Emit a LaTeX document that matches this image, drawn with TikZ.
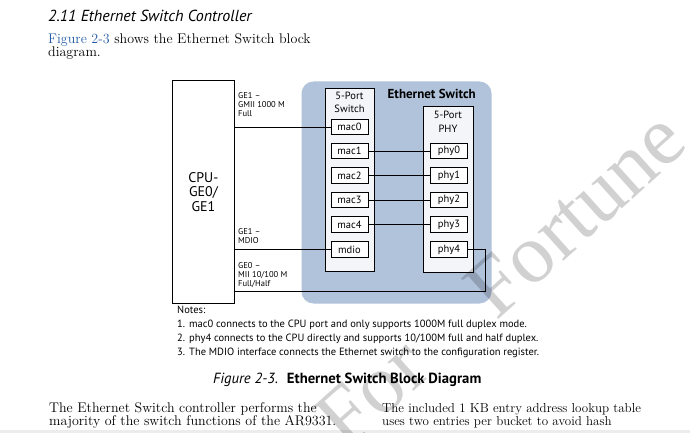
\documentclass[tikz,border=0pt]{standalone}
\usepackage{fontspec}
\newfontfamily\dsans{PT Sans}
\newfontfamily\wmfont{Liberation Serif}
\definecolor{swblue}{RGB}{176,195,219}
\definecolor{colfill}{RGB}{243,245,248}
\definecolor{linkblue}{RGB}{36,92,164}
\definecolor{stripgray}{RGB}{236,236,236}
\begin{document}
\begin{tikzpicture}[x=1pt,y=-1pt,
  port/.style={draw, line width=0.8pt, fill=white, minimum width=37pt, minimum height=15.5pt, inner sep=0pt, font=\dsans\fontsize{10.5}{12}\selectfont},
  colbox/.style={draw, line width=0.8pt, fill=colfill},
  wire/.style={line width=0.8pt},
  lbl/.style={anchor=north west, inner sep=0pt, align=left, font=\dsans\fontsize{8.5}{9.2}\selectfont},
  coltitle/.style={anchor=north, inner sep=0pt, align=center, font=\dsans\fontsize{10.5}{13.5}\selectfont},
  body/.style={anchor=base west, inner sep=0pt},
  note/.style={anchor=base west, inner sep=0pt, font=\dsans\fontsize{10.5}{12}\selectfont},
  wm/.style={rotate=42, anchor=base west, inner sep=0pt, text=black, opacity=0.18, font=\wmfont\fontsize{84}{84}\selectfont}]
\useasboundingbox (0,0) rectangle (690,433);
\fill[white] (0,0) rectangle (690,433);

% page text
\node[anchor=base west, inner sep=0pt, font=\dsans\itshape\fontsize{16}{18}\selectfont] (head) at (48,21.5) {2.11 Ethernet Switch Controller};
\node[body, font=\fontsize{14}{15}\selectfont] (intro1) at (48,44) {\textcolor{linkblue}{Figure 2-3} shows the Ethernet Switch block};
\node[body, font=\fontsize{14}{15}\selectfont] (intro2) at (48,57) {diagram.};

% Ethernet switch background
\fill[swblue, rounded corners=12pt] (301.5,81.5) rectangle (491.5,303.5);
\node[anchor=base west, inner sep=0pt, font=\dsans\bfseries\fontsize{13}{15}\selectfont] (swtitle) at (387.5,98.3) {Ethernet Switch};

% CPU box
\node[draw, line width=0.8pt, fill=white, minimum width=62pt, minimum height=223pt, inner sep=0pt, anchor=north west, align=center, font=\dsans\fontsize{14}{14.7}\selectfont] (cpu) at (172,80) {CPU-\\GE0/\\GE1};

% columns
\node[colbox, anchor=north west, minimum width=49pt, minimum height=183pt, inner sep=0pt] (swcol) at (325,88) {};
\node[coltitle] (swcoltitle) at (349.5,91.5) {5-Port\\Switch};
\node[colbox, anchor=north west, minimum width=50pt, minimum height=166pt, inner sep=0pt] (phycol) at (423,106) {};
\node[coltitle] (phycoltitle) at (448,111) {5-Port\\PHY};

% ports
\node[port] (mac0) at (349.5,127) {mac0};
\node[port] (mac1) at (349.5,151) {mac1};
\node[port] (mac2) at (349.5,175.5) {mac2};
\node[port] (mac3) at (349.5,200) {mac3};
\node[port] (mac4) at (349.5,224.5) {mac4};
\node[port] (mdio) at (349.5,249.5) {mdio};
\node[port] (phy0) at (449,151) {phy0};
\node[port] (phy1) at (449,175.5) {phy1};
\node[port] (phy2) at (449,200) {phy2};
\node[port] (phy3) at (449,224.5) {phy3};
\node[port] (phy4) at (449,249.5) {phy4};

% connectors
\draw[wire] (cpu.east |- mac0.west) -- (mac0.west);
\draw[wire] (cpu.east |- mdio.west) -- (mdio.west);
\draw[wire] (mac1.east) -- (phy0.west);
\draw[wire] (mac2.east) -- (phy1.west);
\draw[wire] (mac3.east) -- (phy2.west);
\draw[wire] (mac4.east) -- (phy3.west);
\coordinate (ret) at (485.5,291.7);
\draw[wire] (phy4.east) -| (ret) -- (cpu.east |- ret);

% link labels
\node[lbl] (l1) at (238,91.8) {GE1 –\\GMII 1000 M\\Full};
\node[lbl] (l2) at (238,228) {GE1 –\\MDIO};
\node[lbl] (l3) at (238,262) {GE0 –\\MII 10/100 M\\Full/Half};

% notes
\node[note] (notes) at (177,313.5) {Notes:};
\node[note] (n1a) at (177,327.5) {1.};
\node[note] (n1) at (189,327.5) {mac0 connects to the CPU port and only supports 1000M full duplex mode.};
\node[note] (n2a) at (177,341) {2.};
\node[note] (n2) at (189,341) {phy4 connects to the CPU directly and supports 10/100M full and half duplex.};
\node[note] (n3a) at (177,355) {3.};
\node[note] (n3) at (189,355) {The MDIO interface connects the Ethernet switch to the configuration register.};

% caption
\node[anchor=base west, inner sep=0pt, font=\dsans\fontsize{14.7}{16}\selectfont] (cap) at (213,383) {\textit{Figure 2-3.}\hspace{0.6em}\textbf{Ethernet Switch Block Diagram}};

% body columns
\node[body, font=\fontsize{14}{15}\selectfont] (b1) at (49,412.5) {The Ethernet Switch controller performs the};
\node[body, font=\fontsize{14}{15}\selectfont] (b2) at (49,425.5) {majority of the switch functions of the AR9331.};
\node[body, font=\fontsize{13}{15}\selectfont] (b3) at (382,412.5) {The included 1 KB entry address lookup table};
\node[body, font=\fontsize{13}{15}\selectfont] (b4) at (382,425.5) {uses two entries per bucket to avoid hash};

% bottom strip
\fill[stripgray] (0,430) rectangle (690,433);

% watermark
\begin{scope}
\clip (0,0) rectangle (690,433);
\node[wm] (wm2) at (496,322) {Fortune};
\node[wm] (wm1) at (346,452) {For};
\end{scope}
\end{tikzpicture}
\end{document}
